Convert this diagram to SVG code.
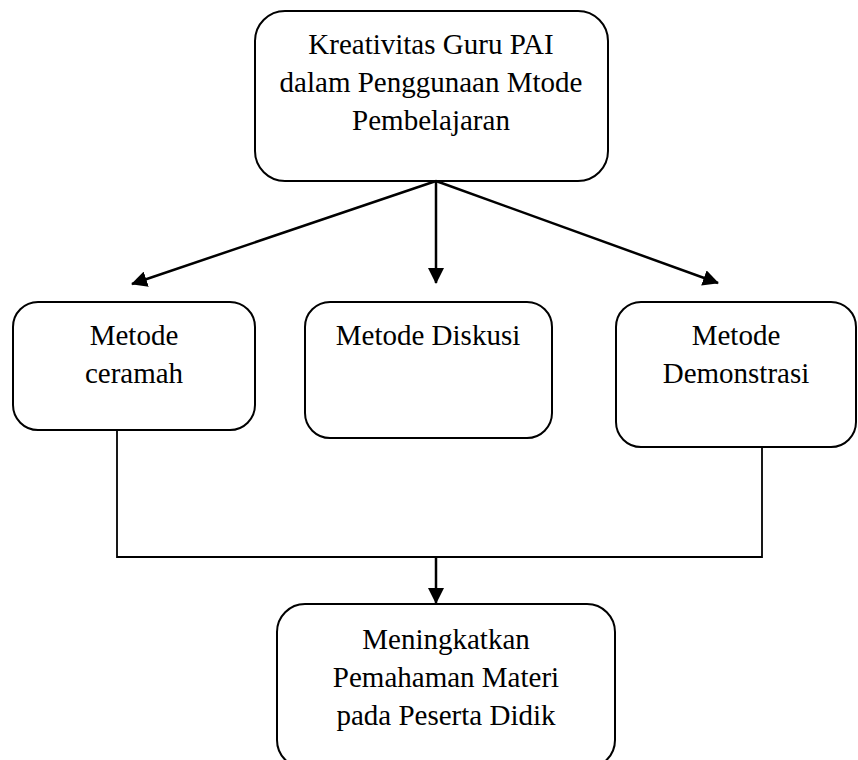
<svg xmlns="http://www.w3.org/2000/svg" width="858" height="760" viewBox="0 0 858 760">
<style>
  .box { fill: #ffffff; stroke: #000000; stroke-width: 2; }
  .t { font-family: "Liberation Serif", "Times New Roman", serif; font-size: 29px; fill: #000000; text-anchor: middle; }
  .arr { fill: none; stroke: #000000; stroke-width: 2.5; marker-end: url(#ah); }
  .ln { fill: none; stroke: #000000; stroke-width: 1.8; }
</style>
<defs>
  <marker id="ah" markerUnits="userSpaceOnUse" markerWidth="16" markerHeight="16" viewBox="0 0 16 16" refX="15" refY="8" orient="auto">
    <path d="M0,0 L16,8 L0,16 Z" fill="#000000"/>
  </marker>
</defs>
<rect width="858" height="760" fill="#ffffff"/>

<g id="node-kreativitas">
  <rect class="box" x="255" y="11" width="353" height="170" rx="30"/>
  <text class="t" x="431" y="54">Kreativitas Guru PAI</text>
  <text class="t" x="431" y="92">dalam Penggunaan Mtode</text>
  <text class="t" x="431" y="130">Pembelajaran</text>
</g>

<g id="node-ceramah">
  <rect class="box" x="13" y="302" width="242" height="128" rx="25"/>
  <text class="t" x="134" y="345">Metode</text>
  <text class="t" x="134" y="383">ceramah</text>
</g>

<g id="node-diskusi">
  <rect class="box" x="305" y="302" width="247" height="136" rx="25"/>
  <text class="t" x="428" y="345">Metode Diskusi</text>
</g>

<g id="node-demonstrasi">
  <rect class="box" x="616" y="302" width="240" height="145" rx="25"/>
  <text class="t" x="736" y="345">Metode</text>
  <text class="t" x="736" y="383">Demonstrasi</text>
</g>

<g id="node-meningkatkan">
  <rect class="box" x="277" y="604" width="338" height="164" rx="28"/>
  <text class="t" x="446" y="649">Meningkatkan</text>
  <text class="t" x="446" y="687">Pemahaman Materi</text>
  <text class="t" x="446" y="725">pada Peserta Didik</text>
</g>

<g id="connectors">
  <line class="arr" x1="436" y1="181" x2="132" y2="284"/>
  <line class="arr" x1="436" y1="181" x2="436" y2="283"/>
  <line class="arr" x1="436" y1="181" x2="718" y2="283"/>
  <polyline class="ln" points="117,430 117,557 762,557 762,447"/>
  <line class="arr" x1="436" y1="557" x2="436" y2="603"/>
</g>
</svg>
